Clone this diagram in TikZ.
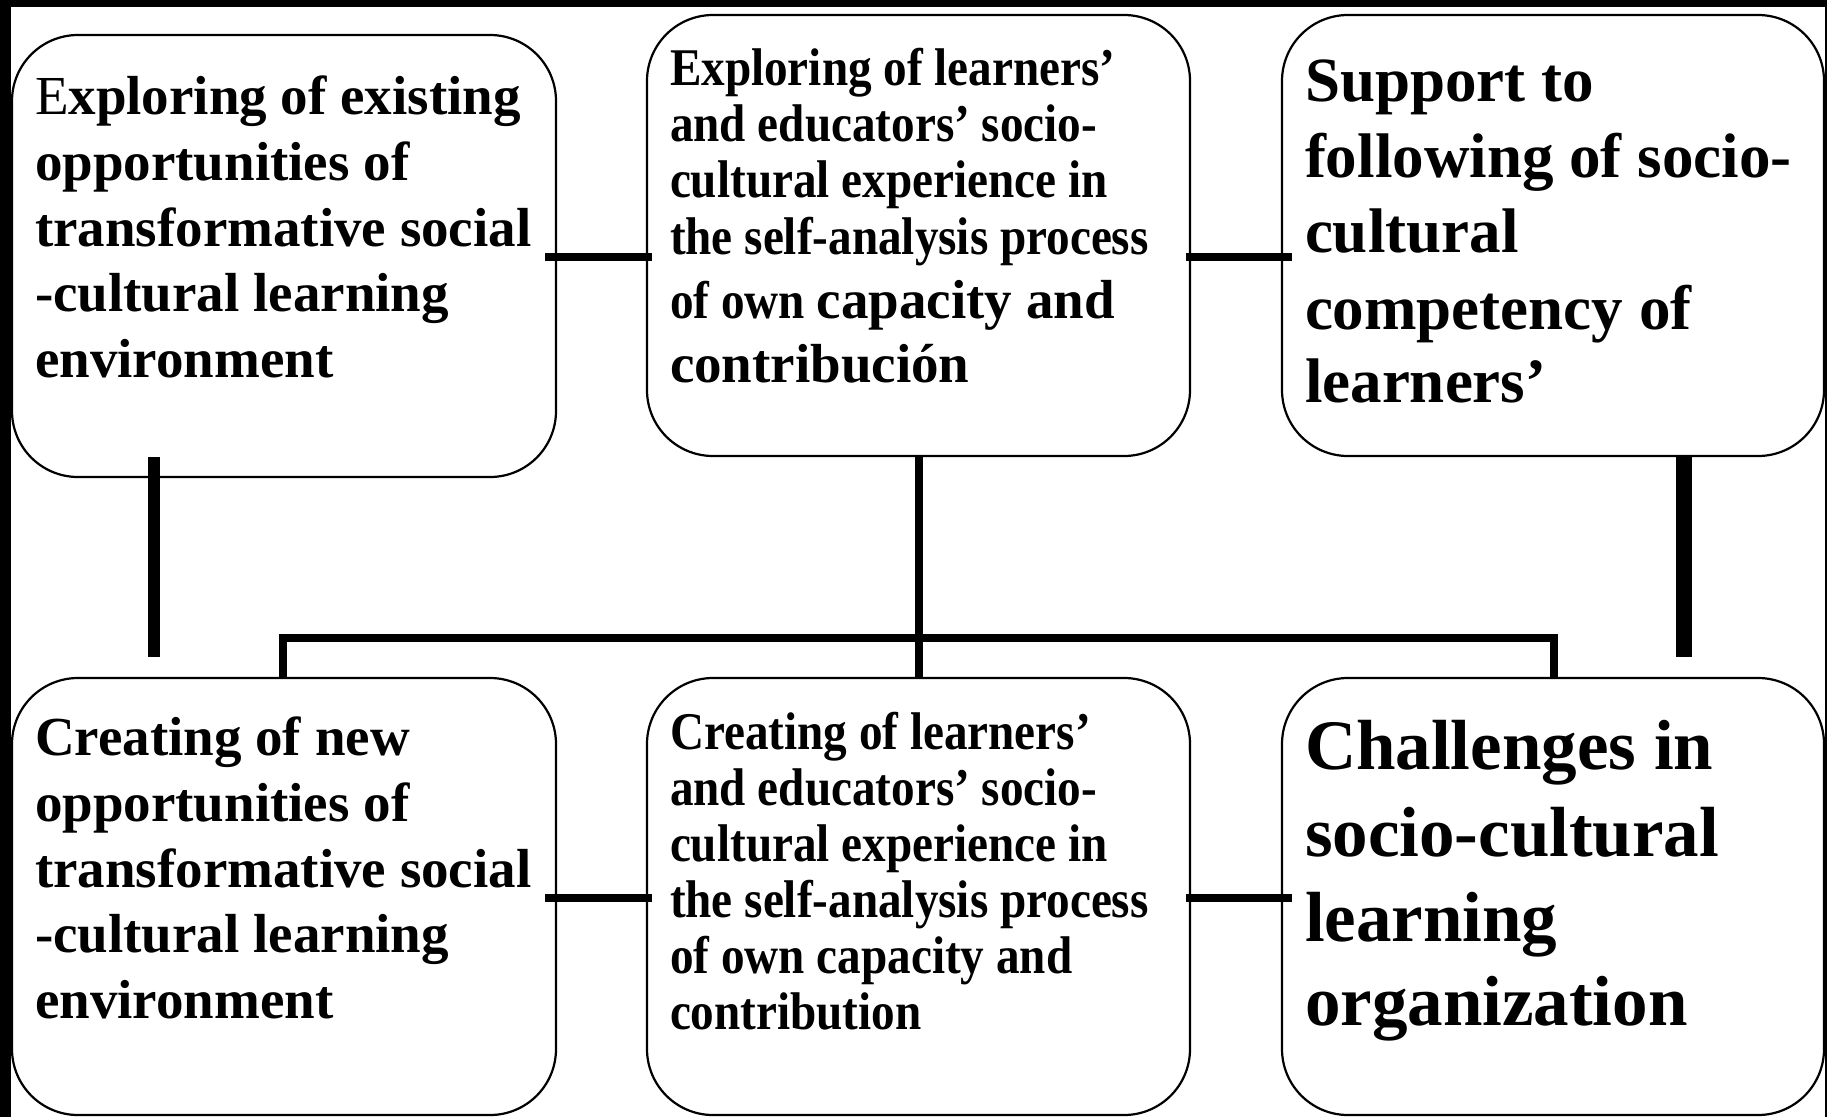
\documentclass[tikz,border=0pt]{standalone}
\usepackage{fontspec}
\setmainfont{Liberation Serif}
\newfontfamily\condfont[FakeStretch=0.89]{Liberation Serif}
\usetikzlibrary{calc}
\begin{document}
\begin{tikzpicture}[x=1pt,y=-1pt,
  box/.style={draw, line width=2.2pt, rounded corners=66pt, rectangle, inner sep=0pt, outer sep=0pt},
  cthin/.style={line width=8pt},
  txt/.style={anchor=base west, inner sep=0pt, outer sep=0pt},
  fL/.style={font=\bfseries\fontsize{55}{66}\selectfont},
  fM/.style={font=\condfont\bfseries\fontsize{53}{56}\selectfont},
  fR/.style={font=\bfseries\fontsize{63}{75}\selectfont},
  fB/.style={font=\bfseries\fontsize{71}{85}\selectfont}]
\useasboundingbox (0,0) rectangle (1827,1117);
\fill[white] (0,0) rectangle (1827,1117);
% frame
\fill[black] (0,0) rectangle (1827,7);
\fill[black] (0,0) rectangle (11,1117);
\fill[black] (1825,0) rectangle (1827,1117);
% boxes
\node[box, minimum width=544pt, minimum height=442pt] (tl) at (284,256) {};
\node[box, minimum width=543pt, minimum height=441pt] (tm) at (918.5,235.5) {};
\node[box, minimum width=542pt, minimum height=441pt] (tr) at (1553,235.5) {};
\node[box, minimum width=544pt, minimum height=437pt] (bl) at (284,896.5) {};
\node[box, minimum width=543pt, minimum height=437pt] (bm) at (918.5,896.5) {};
\node[box, minimum width=542pt, minimum height=437pt] (br) at (1553,896.5) {};
\coordinate (rowA) at (0,257);
\coordinate (rowB) at (0,898);
% connectors
\draw[cthin] ($(tl.east |- rowA)+(-11,0)$) -- ($(tm.west |- rowA)+(5,0)$);
\draw[cthin] ($(tm.east |- rowA)+(-4,0)$) -- ($(tr.west |- rowA)+(10,0)$);
\draw[cthin] ($(bl.east |- rowB)+(-11,0)$) -- ($(bm.west |- rowB)+(5,0)$);
\draw[cthin] ($(bm.east |- rowB)+(-4,0)$) -- ($(br.west |- rowB)+(10,0)$);
\draw[line width=12pt] ($(tl.south west)+(142,-20)$) -- ($(bl.north west)+(142,-21)$);
\draw[line width=16pt] ($(tr.south east)+(-140,1)$) -- ($(br.north east)+(-140,-21)$);
\draw[cthin] (tm.south) -- (bm.north);
\draw[cthin] ($(bl.north west)+(271,0)$) -- ++(0,-40) -| ($(br.north west)+(272,0)$);
% texts top left
\node[txt,fL] (tl1) at (35,114) {{\mdseries E}xploring of existing};
\node[txt,fL] (tl2) at (35,180) {opportunities of};
\node[txt,fL] (tl3) at (35,246) {transformative social};
\node[txt,fL] (tl4) at (35,311) {-cultural learning};
\node[txt,fL] (tl5) at (35,377) {environment};
% bottom left
\node[txt,fL] (bl1) at (35,755) {Creating of new};
\node[txt,fL] (bl2) at (35,821) {opportunities of};
\node[txt,fL] (bl3) at (35,887) {transformative social};
\node[txt,fL] (bl4) at (35,952) {-cultural learning};
\node[txt,fL] (bl5) at (35,1018) {environment};
% top middle
\node[txt,fM] (tm1) at (670,85) {Exploring of learners’};
\node[txt,fM] (tm2) at (670,141) {and educators’ socio-};
\node[txt,fM] (tm3) at (670,197) {cultural experience in};
\node[txt,fM] (tm4) at (670,254) {the self-analysis process};
\node[txt,fM] (tm5) at (670,318) {of own {\rmfamily\fontsize{55}{56}\selectfont capacity and}};
\node[txt,fL] (tm6) at (670,382) {contribución};
% bottom middle
\node[txt,fM] (bm1) at (670,749) {Creating of learners’};
\node[txt,fM] (bm2) at (670,805) {and educators’ socio-};
\node[txt,fM] (bm3) at (670,861) {cultural experience in};
\node[txt,fM] (bm4) at (670,917) {the self-analysis process};
\node[txt,fM] (bm5) at (670,973) {of own capacity and};
\node[txt,fM] (bm6) at (670,1029) {contribution};
% top right
\node[txt,fR] (tr1) at (1305,101) {Support to};
\node[txt,fR] (tr2) at (1305,177) {following of socio-};
\node[txt,fR] (tr3) at (1305,252) {cultural};
\node[txt,fR] (tr4) at (1305,329) {competency of};
\node[txt,fR] (tr5) at (1305,402) {learners’};
% bottom right
\node[txt,fB] (br1) at (1305,769) {Challenges in};
\node[txt,fB] (br2) at (1305,856) {socio-cultural};
\node[txt,fB] (br3) at (1305,941) {learning};
\node[txt,fB] (br4) at (1305,1025) {organization};
\end{tikzpicture}
\end{document}
